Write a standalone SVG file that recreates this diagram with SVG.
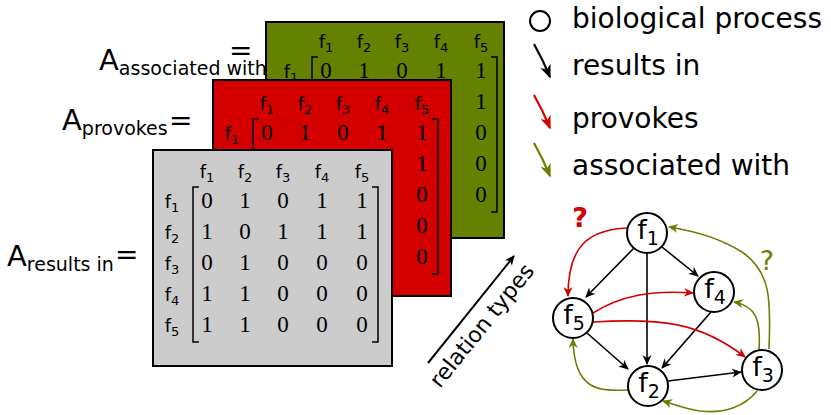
<svg xmlns="http://www.w3.org/2000/svg" width="831" height="415" viewBox="0 0 831 415">
<style>
.sans{font-family:'DejaVu Sans','Liberation Sans',sans-serif;fill:#000}
.lbl{font-family:'DejaVu Sans','Liberation Sans',sans-serif;font-size:18px;text-anchor:middle;fill:#000}
.num{font-family:'Liberation Serif','DejaVu Serif',serif;font-size:23px;text-anchor:middle;fill:#000}
.br{fill:none;stroke:#000;stroke-width:1.5}
.box{stroke:#000;stroke-width:2}
.big{font-family:'DejaVu Sans','Liberation Sans',sans-serif;font-size:29px;fill:#000}
.eq{font-family:'DejaVu Sans','Liberation Sans',sans-serif;font-size:28px;fill:#000}
.sub{font-size:19px}
.leg{font-family:'DejaVu Sans','Liberation Sans',sans-serif;font-size:28px;fill:#000}
.node circle{fill:#fff;stroke:#000;stroke-width:2}
.node text{font-family:'DejaVu Sans','Liberation Sans',sans-serif;font-size:27px;text-anchor:middle;fill:#000}
.e{fill:none;stroke-width:1.6}
.k{stroke:#000}
.r{stroke:#d40000}
.g{stroke:#668000}
</style>
<defs>
<marker id="ak" markerUnits="userSpaceOnUse" markerWidth="14" markerHeight="12" refX="0" refY="0" viewBox="-11 -6 14 12" orient="auto"><path d="M1,0 L-9,-4.5 L-6,0 L-9,4.5 Z" fill="#000"/></marker>
<marker id="ar" markerUnits="userSpaceOnUse" markerWidth="14" markerHeight="12" refX="0" refY="0" viewBox="-11 -6 14 12" orient="auto"><path d="M1,0 L-9,-4.5 L-6,0 L-9,4.5 Z" fill="#d40000"/></marker>
<marker id="ag" markerUnits="userSpaceOnUse" markerWidth="14" markerHeight="12" refX="0" refY="0" viewBox="-11 -6 14 12" orient="auto"><path d="M1,0 L-9,-4.5 L-6,0 L-9,4.5 Z" fill="#668000"/></marker>
<marker id="lk" markerUnits="userSpaceOnUse" markerWidth="18" markerHeight="14" refX="0" refY="0" viewBox="-15 -7 18 14" orient="auto"><path d="M1.5,0 L-12,-5.5 L-8,0 L-12,5.5 Z" fill="#000"/></marker>
<marker id="lr" markerUnits="userSpaceOnUse" markerWidth="18" markerHeight="14" refX="0" refY="0" viewBox="-15 -7 18 14" orient="auto"><path d="M1.5,0 L-12,-5.5 L-8,0 L-12,5.5 Z" fill="#d40000"/></marker>
<marker id="lg" markerUnits="userSpaceOnUse" markerWidth="18" markerHeight="14" refX="0" refY="0" viewBox="-15 -7 18 14" orient="auto"><path d="M1.5,0 L-12,-5.5 L-8,0 L-12,5.5 Z" fill="#668000"/></marker>
</defs>

<!-- green matrix -->
<g id="matrix-associated">
<rect class="box" x="266" y="22" width="238" height="216" fill="#668000"/>
<text class="lbl" x="326" y="48">f<tspan font-size="13" dy="4">1</tspan></text>
<text class="lbl" x="364" y="48">f<tspan font-size="13" dy="4">2</tspan></text>
<text class="lbl" x="402" y="48">f<tspan font-size="13" dy="4">3</tspan></text>
<text class="lbl" x="441" y="48">f<tspan font-size="13" dy="4">4</tspan></text>
<text class="lbl" x="481" y="48">f<tspan font-size="13" dy="4">5</tspan></text>
<text class="lbl" x="291" y="78">f<tspan font-size="13" dy="4">1</tspan></text>
<text class="num" x="326" y="78">0</text><text class="num" x="364" y="78">1</text><text class="num" x="402" y="78">0</text><text class="num" x="441" y="78">1</text><text class="num" x="481" y="78">1</text>
<text class="num" x="481" y="109">1</text><text class="num" x="481" y="140">0</text><text class="num" x="481" y="171">0</text><text class="num" x="481" y="202">0</text>
<path class="br" d="M318,57 H312 V212 H318"/>
<path class="br" d="M491,57 H497 V212 H491"/>
</g>

<!-- red matrix -->
<g id="matrix-provokes">
<rect class="box" x="213" y="80" width="238" height="216" fill="#d40000"/>
<text class="lbl" x="267" y="110">f<tspan font-size="13" dy="4">1</tspan></text>
<text class="lbl" x="305" y="110">f<tspan font-size="13" dy="4">2</tspan></text>
<text class="lbl" x="343" y="110">f<tspan font-size="13" dy="4">3</tspan></text>
<text class="lbl" x="382" y="110">f<tspan font-size="13" dy="4">4</tspan></text>
<text class="lbl" x="422" y="110">f<tspan font-size="13" dy="4">5</tspan></text>
<text class="lbl" x="232" y="140">f<tspan font-size="13" dy="4">1</tspan></text>
<text class="num" x="267" y="140">0</text><text class="num" x="305" y="140">1</text><text class="num" x="343" y="140">0</text><text class="num" x="382" y="140">1</text><text class="num" x="422" y="140">1</text>
<text class="num" x="422" y="171">1</text><text class="num" x="422" y="202">0</text><text class="num" x="422" y="233">0</text><text class="num" x="422" y="264">0</text>
<path class="br" d="M259,119 H253 V274 H259"/>
<path class="br" d="M432,119 H438 V274 H432"/>
</g>

<!-- gray matrix -->
<g id="matrix-results-in">
<rect class="box" x="153" y="150" width="239" height="216" fill="#cccccc"/>
<text class="lbl" x="207" y="178">f<tspan font-size="13" dy="4">1</tspan></text>
<text class="lbl" x="245" y="178">f<tspan font-size="13" dy="4">2</tspan></text>
<text class="lbl" x="283" y="178">f<tspan font-size="13" dy="4">3</tspan></text>
<text class="lbl" x="322" y="178">f<tspan font-size="13" dy="4">4</tspan></text>
<text class="lbl" x="362" y="178">f<tspan font-size="13" dy="4">5</tspan></text>
<text class="lbl" x="172" y="208">f<tspan font-size="13" dy="4">1</tspan></text>
<text class="lbl" x="172" y="239">f<tspan font-size="13" dy="4">2</tspan></text>
<text class="lbl" x="172" y="270">f<tspan font-size="13" dy="4">3</tspan></text>
<text class="lbl" x="172" y="301">f<tspan font-size="13" dy="4">4</tspan></text>
<text class="lbl" x="172" y="332">f<tspan font-size="13" dy="4">5</tspan></text>
<text class="num" x="207" y="208">0</text><text class="num" x="245" y="208">1</text><text class="num" x="283" y="208">0</text><text class="num" x="322" y="208">1</text><text class="num" x="362" y="208">1</text>
<text class="num" x="207" y="239">1</text><text class="num" x="245" y="239">0</text><text class="num" x="283" y="239">1</text><text class="num" x="322" y="239">1</text><text class="num" x="362" y="239">1</text>
<text class="num" x="207" y="270">0</text><text class="num" x="245" y="270">1</text><text class="num" x="283" y="270">0</text><text class="num" x="322" y="270">0</text><text class="num" x="362" y="270">0</text>
<text class="num" x="207" y="301">1</text><text class="num" x="245" y="301">1</text><text class="num" x="283" y="301">0</text><text class="num" x="322" y="301">0</text><text class="num" x="362" y="301">0</text>
<text class="num" x="207" y="332">1</text><text class="num" x="245" y="332">1</text><text class="num" x="283" y="332">0</text><text class="num" x="322" y="332">0</text><text class="num" x="362" y="332">0</text>
<path class="br" d="M199,187 H193 V342 H199"/>
<path class="br" d="M372,187 H378 V342 H372"/>
</g>

<!-- matrix labels -->
<g id="label-associated">
<text class="big" x="99" y="70">A<tspan class="sub" dy="5">associated with</tspan></text>
<text class="eq" x="229" y="60">=</text>
</g>
<g id="label-provokes">
<text class="big" x="62" y="130">A<tspan class="sub" dy="5">provokes</tspan></text>
<text class="eq" x="169" y="130">=</text>
</g>
<g id="label-results-in">
<text class="big" x="7" y="266">A<tspan class="sub" dy="5">results in</tspan></text>
<text class="eq" x="115" y="264">=</text>
</g>

<!-- relation types -->
<g id="relation-types">
<line x1="428" y1="363" x2="514" y2="256" stroke="#000" stroke-width="2" marker-end="url(#ak)"/>
<text class="sans" font-size="22" transform="translate(440,389) rotate(-51)">relation types</text>
</g>

<!-- legend -->
<g id="legend">
<circle cx="540" cy="21" r="10" fill="#fff" stroke="#000" stroke-width="2"/>
<text class="leg" x="572" y="28">biological process</text>
<path d="M534,44 Q543,60 550,77" fill="none" stroke="#000" stroke-width="2.2" marker-end="url(#lk)"/>
<text class="leg" x="572" y="75">results in</text>
<path d="M534,95 Q543,111 550,128" fill="none" stroke="#d40000" stroke-width="2.2" marker-end="url(#lr)"/>
<text class="leg" x="572" y="128">provokes</text>
<path d="M534,143 Q543,159 550,176" fill="none" stroke="#668000" stroke-width="2.2" marker-end="url(#lg)"/>
<text class="leg" x="572" y="175">associated with</text>
</g>

<!-- connectors -->
<g id="connectors">
<path class="e k" d="M634,248 L586,297" marker-end="url(#ak)"/>
<path class="e k" d="M647,253 L647,364" marker-end="url(#ak)"/>
<path class="e k" d="M662,247 L698,276" marker-end="url(#ak)"/>
<path class="e k" d="M587,333 L628,369" marker-end="url(#ak)"/>
<path class="e k" d="M711,312 L662,368" marker-end="url(#ak)"/>
<path class="e k" d="M668,381 L741,372" marker-end="url(#ak)"/>
<path class="e r" d="M627,228 C588,230 568,246 568,296" marker-end="url(#ar)"/>
<path class="e r" d="M593,313 C620,296 650,290 693,293" marker-end="url(#ar)"/>
<path class="e r" d="M593,322 C660,318 700,322 745,357" marker-end="url(#ar)"/>
<path class="e g" d="M628,390 C600,391 574,392 573,339" marker-end="url(#ag)"/>
<path class="e g" d="M757,391 C745,406 725,414 700,411 C686,409 676,405 663,401" marker-end="url(#ag)"/>
<path class="e g" d="M759,350 C761,320 756,306 734,302" marker-end="url(#ag)"/>
<path class="e g" d="M769,349 C771,300 771,272 742,252 C720,238 694,231 669,227" marker-end="url(#ag)"/>
<text x="580" y="227" font-family="DejaVu Sans, sans-serif" font-size="27" font-weight="bold" fill="#d40000" text-anchor="middle">?</text>
<text x="767" y="270" font-family="DejaVu Sans, sans-serif" font-size="27" fill="#668000" text-anchor="middle">?</text>
</g>

<!-- nodes -->
<g id="node-f1" class="node"><circle cx="647" cy="233" r="20"/><text x="648" y="239">f<tspan font-size="19" dy="6">1</tspan></text></g>
<g id="node-f4" class="node"><circle cx="714" cy="292" r="20"/><text x="715" y="298">f<tspan font-size="19" dy="6">4</tspan></text></g>
<g id="node-f5" class="node"><circle cx="573" cy="318" r="20"/><text x="574" y="324">f<tspan font-size="19" dy="6">5</tspan></text></g>
<g id="node-f2" class="node"><circle cx="648" cy="386" r="20"/><text x="649" y="392">f<tspan font-size="19" dy="6">2</tspan></text></g>
<g id="node-f3" class="node"><circle cx="762" cy="370" r="20"/><text x="763" y="376">f<tspan font-size="19" dy="6">3</tspan></text></g>
</svg>
